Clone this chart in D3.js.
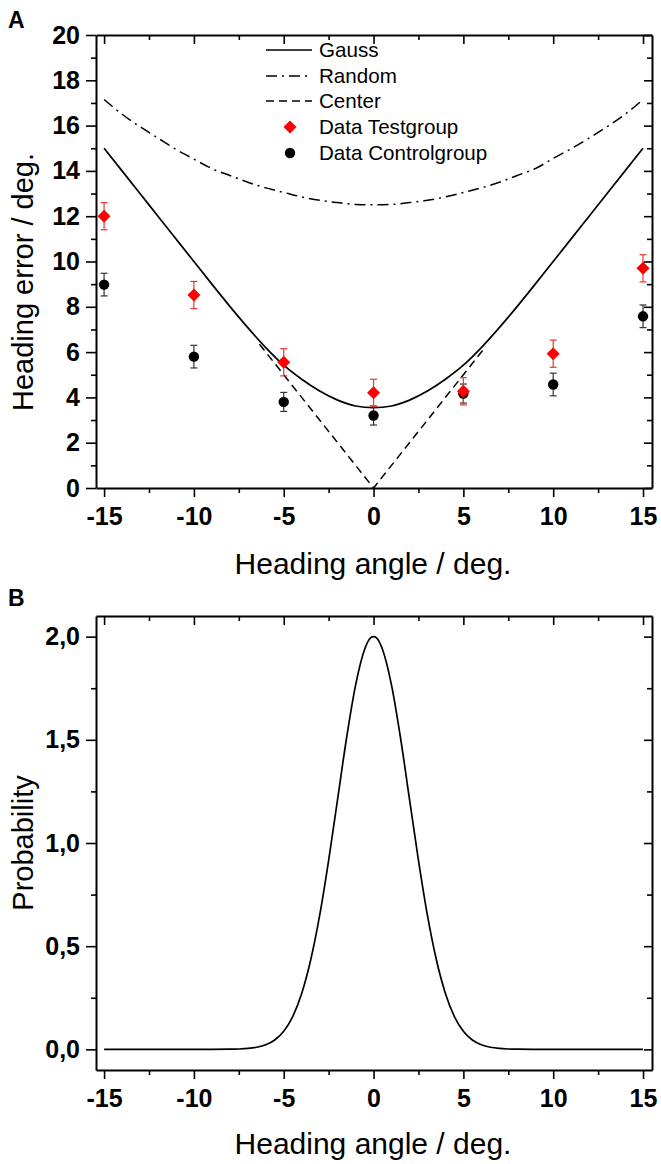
<!DOCTYPE html>
<html>
<head>
<meta charset="utf-8">
<script src="https://cdn.jsdelivr.net/npm/d3@7"></script>
<style>
  html, body { margin: 0; padding: 0; background: #fff; }
  svg { display: block; }
  text { font-family: "Liberation Sans", Arial, sans-serif; }
</style>
</head>
<body>
<script>
// ---------------- Data ----------------
const angles = [-15, -10, -5, 0, 5, 10, 15];
const testMean = [12.0, 8.52, 5.55, 4.2, 4.27, 5.93, 9.7];
const testErr  = [0.6, 0.6, 0.6, 0.6, 0.6, 0.6, 0.6];
const ctrlMean = [8.98, 5.8, 3.8, 3.2, 4.17, 4.57, 7.58];
const ctrlErr  = [0.5, 0.5, 0.42, 0.42, 0.42, 0.5, 0.5];

const curveX      = [-15,-14,-13,-12,-11,-10,-9,-8,-7,-6,-5,-4,-3,-2,-1,0,1,2,3,4,5,6,7,8,9,10,11,12,13,14,15];
const gaussCurve  = [15,14,13,12,11,10,9.0,8.02,7.08,6.2,5.42,4.8,4.28,3.88,3.62,3.55,3.62,3.88,4.28,4.8,5.42,6.2,7.08,8.02,9.0,10,11,12,13,14,15];
const randomCurve = [17.15,16.5,15.95,15.45,14.95,14.52,14.1,13.8,13.5,13.25,13.05,12.85,12.7,12.6,12.52,12.5,12.52,12.6,12.7,12.85,13.05,13.25,13.5,13.8,14.1,14.55,14.98,15.45,15.95,16.5,17.15];
const centerX     = [-6.35, 0, 6.25];
const centerCurve = [6.35, 0, 6.25];

const probX = [-15,-12,-10,-9,-8,-7.5,-7,-6.5,-6,-5.5,-5,-4.5,-4,-3.5,-3,-2.5,-2,-1.5,-1,-0.5,-0.15,0,0.15,0.5,1,1.5,2,2.5,3,3.5,4,4.5,5,5.5,6,6.5,7,7.5,8,9,10,12,15];
const probY = [0,0,0,0.0001,0.0007,0.0018,0.0044,0.0102,0.0222,0.0456,0.088,0.159,0.271,0.433,0.649,0.916,1.213,1.51,1.765,1.938,1.995,2.0,1.995,1.938,1.765,1.51,1.213,0.916,0.649,0.433,0.271,0.159,0.088,0.0456,0.0222,0.0102,0.0044,0.0018,0.0007,0.0001,0,0,0];

const xMajor = [-15, -10, -5, 0, 5, 10, 15];
const xMinor = [-12.5, -7.5, -2.5, 2.5, 7.5, 12.5];
const yMajorA = [0, 2, 4, 6, 8, 10, 12, 14, 16, 18, 20];
const yMinorA = [1, 3, 5, 7, 9, 11, 13, 15, 17, 19];
const yMajorB = [0, 0.5, 1.0, 1.5, 2.0];
const yMajorBLabels = ["0,0", "0,5", "1,0", "1,5", "2,0"];
const yMinorB = [0.25, 0.75, 1.25, 1.75];

const legendLabels = ["Gauss", "Random", "Center", "Data Testgroup", "Data Controlgroup"];

// ---------------- Setup ----------------
const W = 661, H = 1164;
const svg = d3.select("body").append("svg").attr("width", W).attr("height", H);

const left = 96, right = 652;
const x = d3.scaleLinear().domain([-15.45, 15.5]).range([left, right]);

function drawFrame(g, y, yMaj, yMin, yFmt, top, bottom) {
  const fmtX = d => d3.format("d")(d).replace("−", "-");
  g.append("g").attr("transform", `translate(0,${bottom})`)
    .call(d3.axisBottom(x).tickValues(xMajor).tickSizeInner(9).tickSizeOuter(0).tickPadding(10).tickFormat(fmtX))
    .call(s => s.selectAll("text").attr("font-size", 25).attr("font-weight", "bold").attr("fill", "#000"));
  g.append("g").attr("transform", `translate(0,${bottom})`)
    .call(d3.axisBottom(x).tickValues(xMinor).tickSizeInner(5).tickSizeOuter(0).tickFormat(""))
    .call(s => s.select(".domain").remove());
  g.append("g").attr("transform", `translate(0,${top})`)
    .call(d3.axisTop(x).tickValues(xMajor).tickSizeInner(-9).tickSizeOuter(0).tickFormat(""));
  g.append("g").attr("transform", `translate(0,${top})`)
    .call(d3.axisTop(x).tickValues(xMinor).tickSizeInner(-5).tickSizeOuter(0).tickFormat(""))
    .call(s => s.select(".domain").remove());
  g.append("g").attr("transform", `translate(${left},0)`)
    .call(d3.axisLeft(y).tickValues(yMaj).tickSizeInner(10).tickSizeOuter(0).tickPadding(6).tickFormat(yFmt))
    .call(s => s.selectAll("text").attr("font-size", 25).attr("font-weight", "bold").attr("fill", "#000"));
  g.append("g").attr("transform", `translate(${left},0)`)
    .call(d3.axisLeft(y).tickValues(yMin).tickSizeInner(5).tickSizeOuter(0).tickFormat(""))
    .call(s => s.select(".domain").remove());
  g.append("g").attr("transform", `translate(${right},0)`)
    .call(d3.axisRight(y).tickValues(yMaj).tickSizeInner(-8).tickSizeOuter(0).tickFormat(""));
  g.append("g").attr("transform", `translate(${right},0)`)
    .call(d3.axisRight(y).tickValues(yMin).tickSizeInner(-5).tickSizeOuter(0).tickFormat(""))
    .call(s => s.select(".domain").remove());
  g.selectAll(".domain").attr("stroke", "#000").attr("stroke-width", 2);
  g.selectAll(".tick line").attr("stroke", "#000").attr("stroke-width", 1.6);
}

// ---------------- Panel A ----------------
const topA = 35, botA = 488;
const yA = d3.scaleLinear().domain([0, 20]).range([botA, topA]);
const gA = svg.append("g");

const lineA = d3.line().x(d => x(d[0])).y(d => yA(d[1]));
gA.append("path").datum(curveX.map((v, i) => [v, randomCurve[i]]))
  .attr("d", lineA.curve(d3.curveMonotoneX)).attr("fill", "none").attr("stroke", "#000")
  .attr("stroke-width", 1.5).attr("stroke-dasharray", "11,5,2,5");
gA.append("path").datum(curveX.map((v, i) => [v, gaussCurve[i]]))
  .attr("d", lineA.curve(d3.curveMonotoneX)).attr("fill", "none").attr("stroke", "#000")
  .attr("stroke-width", 1.7);
gA.append("path").datum(centerX.map((v, i) => [v, centerCurve[i]]))
  .attr("d", lineA.curve(d3.curveLinear)).attr("fill", "none").attr("stroke", "#000")
  .attr("stroke-width", 1.5).attr("stroke-dasharray", "8,5");

function errorBars(g, means, errs, color) {
  const eb = g.append("g").attr("stroke", color).attr("stroke-width", 1.2);
  angles.forEach((a, i) => {
    const cx = x(a), y1 = yA(means[i] + errs[i]), y2 = yA(means[i] - errs[i]);
    eb.append("line").attr("x1", cx).attr("x2", cx).attr("y1", y1).attr("y2", y2);
    eb.append("line").attr("x1", cx - 3.5).attr("x2", cx + 3.5).attr("y1", y1).attr("y2", y1);
    eb.append("line").attr("x1", cx - 3.5).attr("x2", cx + 3.5).attr("y1", y2).attr("y2", y2);
  });
}
errorBars(gA, ctrlMean, ctrlErr, "#333");
errorBars(gA, testMean, testErr, "#e53935");

const diamond = "M0,-6.5L6.5,0L0,6.5L-6.5,0Z";
gA.append("g").selectAll("circle").data(angles).join("circle")
  .attr("cx", d => x(d)).attr("cy", (d, i) => yA(ctrlMean[i])).attr("r", 5.2).attr("fill", "#000");
gA.append("g").selectAll("path").data(angles).join("path")
  .attr("d", diamond).attr("transform", (d, i) => `translate(${x(d)},${yA(testMean[i])})`).attr("fill", "#ff0000");

drawFrame(gA, yA, yMajorA, yMinorA, d3.format("d"), topA, botA);

// Legend
const legRows = [50, 76, 101, 127, 153];
const leg = svg.append("g");
const lx1 = 266, lx2 = 312, tx = 319;
leg.append("line").attr("x1", lx1).attr("x2", lx2).attr("y1", legRows[0]).attr("y2", legRows[0]).attr("stroke", "#000").attr("stroke-width", 1.7);
leg.append("line").attr("x1", lx1).attr("x2", lx2).attr("y1", legRows[1]).attr("y2", legRows[1]).attr("stroke", "#000").attr("stroke-width", 1.5).attr("stroke-dasharray", "11,5,2,5");
leg.append("line").attr("x1", lx1).attr("x2", lx2).attr("y1", legRows[2]).attr("y2", legRows[2]).attr("stroke", "#000").attr("stroke-width", 1.5).attr("stroke-dasharray", "8,5");
leg.append("path").attr("d", diamond).attr("transform", `translate(290,${legRows[3]})`).attr("fill", "#ff0000");
leg.append("circle").attr("cx", 290).attr("cy", legRows[4]).attr("r", 5.2).attr("fill", "#000");
leg.selectAll("text").data(legendLabels).join("text")
  .attr("x", tx).attr("y", (d, i) => legRows[i] + 7).attr("font-size", 20.6).attr("fill", "#000").text(d => d);

// Labels A
svg.append("text").attr("x", 8).attr("y", 28).attr("font-size", 23).attr("font-weight", "bold").text("A");
svg.append("text").attr("transform", "translate(33,282) rotate(-90)").attr("text-anchor", "middle")
  .attr("font-size", 29).text("Heading error / deg.");
svg.append("text").attr("x", 373).attr("y", 574).attr("text-anchor", "middle")
  .attr("font-size", 30).text("Heading angle / deg.");

// ---------------- Panel B ----------------
const topB = 616, botB = 1070;
const yB = d3.scaleLinear().domain([-0.1, 2.1]).range([botB, topB]);
const gB = svg.append("g");
gB.append("path").datum(probX.map((v, i) => [v, probY[i]]))
  .attr("d", d3.line().x(d => x(d[0])).y(d => yB(d[1])).curve(d3.curveMonotoneX))
  .attr("fill", "none").attr("stroke", "#000").attr("stroke-width", 1.7);

drawFrame(gB, yB, yMajorB, yMinorB, d => yMajorBLabels[yMajorB.indexOf(d)], topB, botB);

svg.append("text").attr("x", 8).attr("y", 606).attr("font-size", 23).attr("font-weight", "bold").text("B");
svg.append("text").attr("transform", "translate(33,843) rotate(-90)").attr("text-anchor", "middle")
  .attr("font-size", 29).text("Probability");
svg.append("text").attr("x", 373).attr("y", 1154).attr("text-anchor", "middle")
  .attr("font-size", 30).text("Heading angle / deg.");
</script>
</body>
</html>
